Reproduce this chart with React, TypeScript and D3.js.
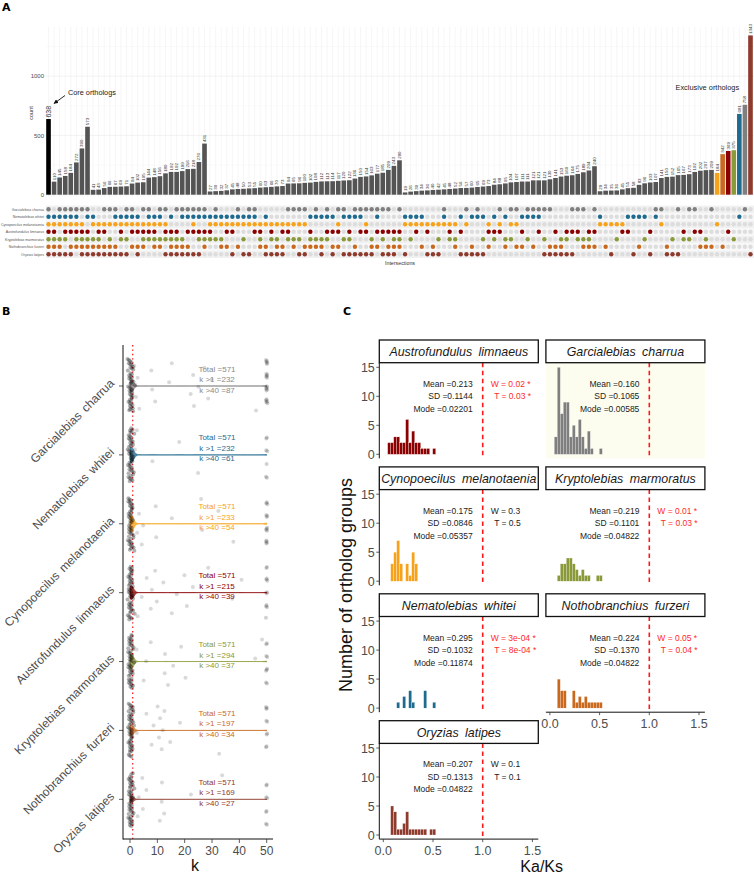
import * as d3 from 'd3';

// species (order of rows in A and B)
const speciesCodes = ['G', 'N', 'C', 'A', 'K', 'F', 'O'];
const speciesNames = [
  'Garcialebias charrua',
  'Nematolebias whitei',
  'Cynopoecilus melanotaenia',
  'Austrofundulus limnaeus',
  'Kryptolebias marmoratus',
  'Nothobranchius furzeri',
  'Oryzias latipes',
];
const speciesColors = ['#7f7f7f', '#1f6a8f', '#f7a21b', '#8b0000', '#8a9a3b', '#c9691f', '#8e3a2d'];

// ---- A: intersection sizes, grouped by degree ----
const deg7Counts = [638];
const deg6Counts = [110, 145, 158, 184, 272, 390, 573];
const deg5Counts = [41, 43, 56, 66, 67, 69, 71, 94, 102, 105, 144, 148, 156, 180, 192, 192, 199, 216, 218, 276, 431];
const deg4Counts = [27, 30, 32, 37, 45, 48, 50, 53, 55, 60, 63, 66, 70, 73, 94, 95, 96, 100, 102, 108, 112, 113, 114, 117, 120, 122, 136, 150, 154, 163, 177, 185, 209, 243, 290];
const deg3Counts = [19, 26, 30, 34, 36, 40, 42, 45, 48, 52, 56, 57, 60, 65, 69, 73, 84, 88, 95, 104, 107, 111, 111, 121, 121, 121, 130, 141, 153, 160, 164, 175, 189, 204, 240];
const deg2Counts = [29, 34, 35, 36, 45, 55, 58, 83, 96, 103, 107, 141, 150, 152, 165, 167, 173, 192, 202, 207, 209];
const deg1Counts = [184, 342, 369, 375, 681, 758, 1343];

const deg7Sets = ['GNCAKFO'];
const deg6Sets = ['NCAKFO', 'GNCKFO', 'GNCAKO', 'GNCAFO', 'GNCAKF', 'GCAKFO', 'GNAKFO'];
const deg5Sets = ['NCKFO', 'CAKFO', 'GCAFO', 'GCKFO', 'GNCFO', 'NCAKO', 'GNCKO', 'GNCAF', 'NCAFO', 'GCAKF', 'GNCAK', 'NCAKF', 'GNCKF', 'GCAKO', 'NAKFO', 'GAKFO', 'GNKFO', 'GNAFO', 'GNCAO', 'GNAKO', 'GNAKF'];
const deg4Sets = ['CNAK', 'CGNK', 'CNKF', 'CNAF', 'CNAO', 'CGNF', 'CNKO', 'CGNO', 'CGNA', 'CAKF', 'CNFO', 'CAKO', 'CKFO', 'CAFO', 'CGAK', 'CGKF', 'CGKO', 'CGFO', 'NAKF', 'GNKF', 'NKFO', 'GNAK', 'NAFO', 'CGAF', 'GNKO', 'NAKO', 'GNFO', 'GNAO', 'CGAO', 'GKFO', 'GNAF', 'GAKO', 'GAFO', 'AKFO', 'GAKF'];
const deg3Sets = ['CNO', 'CNK', 'CNA', 'CNF', 'CAO', 'CFO', 'CKO', 'CGN', 'CAK', 'CKF', 'NAO', 'CGO', 'NFO', 'GNO', 'NKO', 'CAF', 'NAK', 'CGA', 'NKF', 'CGK', 'CGF', 'NAF', 'GNK', 'GNF', 'GNA', 'GKO', 'GFO', 'AFO', 'KFO', 'AKO', 'GAO', 'GAK', 'GKF', 'AKF', 'GAF'];
const deg2Sets = ['CN', 'CF', 'CO', 'CK', 'CA', 'AN', 'ON', 'NF', 'KN', 'AO', 'GN', 'CG', 'FO', 'KO', 'GO', 'AK', 'GK', 'AG', 'AF', 'KF', 'FG'];
const deg1Sets = ['C', 'F', 'A', 'K', 'N', 'G', 'O'];

const counts = [...deg7Counts, ...deg6Counts, ...deg5Counts, ...deg4Counts, ...deg3Counts, ...deg2Counts, ...deg1Counts];
const members = [...deg7Sets, ...deg6Sets, ...deg5Sets, ...deg4Sets, ...deg3Sets, ...deg2Sets, ...deg1Sets];

// ---- B: k values ----
const lowK = [0.01, 0.03, 0.04, 0.06, 0.08, 0.09, 0.11, 0.13, 0.14, 0.17, 0.19, 0.2, 0.22, 0.25, 0.27, 0.28, 0.31, 0.33, 0.36, 0.38, 0.4, 0.43, 0.45, 0.47, 0.5, 0.52, 0.55, 0.58, 0.6, 0.63, 0.66, 0.69, 0.71, 0.74, 0.77, 0.8, 0.83, 0.86, 0.9, 0.94, 0.97, 0.12, 0.05, 0.35, 0.02, 1.1, 1.3, 1.6];
const midK = [
  [1.6, 2.2, 2.8, 3.4, 8.1, 7.8, 9.2, 14.3, 15.3, 22.2, 23.1, 23.4, 25, 27.2, 28.6, 29.9, 46.1],
  [1.8, 2.5, 8.2, 18, 24.9],
  [2.6, 3.3, 4.3, 4.8, 9.4, 9.6, 15.3, 26, 26.4, 32.3, 37.8],
  [2.8, 4.3, 6.1, 7.6, 8, 9.2, 9.8, 12.2, 15.3, 17.1, 19.9, 20.8, 23, 28.6, 37.4, 40.8],
  [2.4, 5, 5.9, 7.6, 12.7, 12.8, 13.9, 15.8, 18.7, 20.3, 45.8, 48.3],
  [2.5, 6, 7.9, 8.6, 10.1, 10.6, 11, 11.6, 12, 12.6, 14.7, 18.3, 32.6],
  [2.8, 3.2, 4.5, 4.7, 6, 10.9, 11.6, 11.7, 12.5, 22.3, 33.7],
];
const cappedAt50 = [20, 7, 14, 11, 9, 9, 8];
const totals = [571, 571, 571, 571, 571, 571, 571];
const kOver1 = [232, 232, 233, 215, 294, 197, 169];
const kOver40 = [87, 61, 54, 39, 37, 34, 27];
const violinWidth = [6, 8, 8.5, 7, 7.5, 5.5, 3.5];

// ---- C: Ka/Ks histograms (facet order) ----
const facetSpecies = [3, 0, 2, 4, 1, 5, 6];
const binStart = 0.044;
const binWidth = 0.0302;
const histCounts = [
  [2, 2, 3, 3, 2, 2, 6, 2, 4, 2, 2, 1, 1, 1, 0, 1],
  [3, 15, 7, 9, 9, 3, 5, 3, 6, 3, 1, 4, 1, 0, 0, 1],
  [0, 3, 5, 7, 3, 0, 3, 1, 5, 3],
  [0, 1, 3, 3, 4, 4, 3, 2, 1, 2, 1, 1, 0, 0, 1, 1],
  [0, 0, 0, 1, 0, 2, 0, 3, 1, 0, 0, 0, 3, 0, 0, 1],
  [0, 5, 3, 3, 0, 0, 3, 1, 2, 1, 2, 1, 1, 1, 1, 1],
  [0, 5, 4, 1, 1, 2, 4, 1, 1, 1, 1, 1, 1, 0, 1, 1],
];
const meanText = ['0.213', '0.160', '0.175', '0.219', '0.295', '0.224', '0.207'];
const sdText = ['0.1144', '0.1065', '0.0846', '0.1101', '0.1032', '0.1370', '0.1313'];
const modeText = ['0.02201', '0.00585', '0.05357', '0.04822', '0.11874', '0.04822', '0.04822'];
const wText = ['W = 0.02 *', '', 'W = 0.3', 'W = 0.01 *', 'W = 3e-04 *', 'W = 0.05 *', 'W = 0.1'];
const tText = ['T = 0.03 *', '', 'T = 0.5', 'T = 0.03 *', 'T = 8e-04 *', 'T = 0.04 *', 'T = 0.1'];
const significant = [true, false, false, true, true, true, false];

const frac = (x: number) => x - Math.floor(x);

function ViolinPanel() {
  const xB = d3.scaleLinear().domain([0, 50]).range([130, 266.7]);
  const yB = d3.scalePoint<string>().domain(speciesNames).range([386, 799.3]);
  const grid = d3.range(0, 50.001, 0.2);
  const bw = 0.8;
  return (
    <g>
      <text x={2} y={315} fontSize={11} fontWeight="bold" fontFamily="DejaVu Sans">B</text>
      <line x1={132.7} x2={132.7} y1={345} y2={839} stroke="#ff1a1a" strokeWidth={1.3} strokeDasharray="1.4,3" />
      {speciesNames.map((name, s) => {
        const ty = yB(name)!;
        const pts: { k: number; w: number }[] = [
          ...lowK.map((k) => ({ k, w: 1 })),
          ...midK[s].map((k) => ({ k, w: 0.3 })),
          ...d3.range(cappedAt50[s]).map(() => ({ k: 50, w: 0.3 })),
        ];
        const dens = grid.map((g) => [g, d3.sum(pts, (p) => p.w * Math.exp(-0.5 * ((g - p.k) / bw) ** 2))] as [number, number]);
        const maxD = d3.max(dens, (d) => d[1])!;
        const area = d3
          .area<[number, number]>()
          .x((d) => xB(d[0]))
          .y0((d) => ty - (d[1] / maxD) * violinWidth[s])
          .y1((d) => ty + (d[1] / maxD) * violinWidth[s])
          .curve(d3.curveBasis);
        return (
          <g key={name}>
            <line x1={119} x2={123} y1={ty} y2={ty} stroke="#333" strokeWidth={0.8} />
            <text
              transform={`translate(112,${ty - 5}) rotate(-45)`}
              textAnchor="end"
              dy="0.35em"
              fontSize={12}
              fill="#4d4d4d"
              style={{ wordSpacing: '2px' }}
            >
              {name}
            </text>
            <line x1={xB(0)} x2={xB(50)} y1={ty} y2={ty} stroke={speciesColors[s]} strokeWidth={0.6} opacity={0.8} />
            <path d={area(dens)!} fill={speciesColors[s]} fillOpacity={0.75} stroke={speciesColors[s]} strokeWidth={0.5} />
          </g>
        );
      })}
      {speciesNames.map((name, s) => {
        const ty = yB(name)!;
        const low = lowK.map((k, i) => (
          <circle key={'l' + i} cx={xB(k) - 2.5 + frac(i * 0.5698 + s * 0.31) * 4} cy={ty + (frac(i * 0.7548776662 + s * 0.137) * 2 - 1) * 27} r={2} fill="#000" fillOpacity={0.3} />
        ));
        const mid = midK[s].map((k, i) => (
          <circle key={'m' + i} cx={xB(k)} cy={ty + (frac(i * 0.618034 + s * 0.29 + 0.1) * 2 - 1) * 25} r={2} fill="#000" fillOpacity={0.15} />
        ));
        const top = d3.range(cappedAt50[s]).map((i) => (
          <circle key={'t' + i} cx={xB(50) + (frac(i * 0.41 + s * 0.2) - 0.5) * 1.5} cy={ty + (frac(i * 0.7548776662 + s * 0.41) * 2 - 1) * 26} r={2} fill="#000" fillOpacity={0.18} />
        ));
        return <g key={'p' + name}>{low}{mid}{top}</g>;
      })}
      {speciesNames.map((name, s) => {
        const ty = yB(name)!;
        const c = s === 0 ? '#8a8a8a' : speciesColors[s];
        return (
          <g key={'t' + name} fontSize={8} fill={c} textAnchor="middle">
            <text x={217} y={ty - 14.5}>{`Total =${totals[s]}`}</text>
            <text x={217} y={ty - 4}>{`k >1 =${kOver1[s]}`}</text>
            <text x={217} y={ty + 6.5}>{`k >40 =${kOver40[s]}`}</text>
          </g>
        );
      })}
      <line x1={123} x2={123} y1={345} y2={839.5} stroke="#111" strokeWidth={1} />
      <line x1={123} x2={273} y1={839} y2={839} stroke="#111" strokeWidth={1} />
      {[0, 10, 20, 30, 40, 50].map((t) => (
        <g key={t}>
          <line x1={xB(t)} x2={xB(t)} y1={839} y2={843} stroke="#333" strokeWidth={0.8} />
          <text x={xB(t)} y={855} textAnchor="middle" fontSize={12} fill="#4d4d4d">{t}</text>
        </g>
      ))}
      <text x={195} y={871} textAnchor="middle" fontSize={16} fill="#111">k</text>
    </g>
  );
}

function HistPanel() {
  const rowTop = (r: number) => 340 + r * 126.9;
  const colX = [379.3, 545.9];
  const panelW = 159;
  const stripH = 22.7;
  const panelH = 95.7;
  return (
    <g>
      <text x={343} y={315} fontSize={11} fontWeight="bold" fontFamily="DejaVu Sans">C</text>
      {facetSpecies.map((s, f) => {
        const r = Math.floor(f / 2);
        const c = f % 2;
        const x0 = colX[c];
        const top = rowTop(r);
        const pTop = top + stripH;
        const xS = d3.scaleLinear().domain([0, 1.5]).range([x0 + 4, x0 + 153.1]);
        const yS = d3.scaleLinear().domain([0, 15]).range([pTop + 91.6, pTop + 4.6]);
        const hasXAxis = f >= 5;
        const name = speciesNames[s];
        const red = significant[f];
        return (
          <g key={name}>
            {s === 0 && <rect x={x0} y={pTop} width={panelW} height={panelH} fill="#fdfdef" />}
            {histCounts[f].map((h, i) =>
              h > 0 ? (
                <rect
                  key={i}
                  x={xS(binStart + i * binWidth)}
                  width={xS(binStart + (i + 1) * binWidth) - xS(binStart + i * binWidth)}
                  y={yS(h)}
                  height={yS(0) - yS(h)}
                  fill={speciesColors[s]}
                  stroke="#fff"
                  strokeWidth={0.25}
                />
              ) : null
            )}
            <line x1={xS(1)} x2={xS(1)} y1={pTop} y2={pTop + panelH} stroke="#ff1a1a" strokeWidth={1.6} strokeDasharray="4.5,3.5" />
            <rect x={x0} y={top} width={panelW} height={stripH} fill="#fff" stroke="#111" strokeWidth={1.3} />
            <text x={x0 + panelW / 2} y={top + 16} textAnchor="middle" fontSize={12.4} fontStyle="italic" fill="#1a1a1a" style={{ wordSpacing: '3px' }}>
              {name}
            </text>
            <g fontSize={8.5} fill="#222" textAnchor="end">
              <text x={xS(0.9)} y={pTop + 24}>{`Mean =${meanText[f]}`}</text>
              <text x={xS(0.9)} y={pTop + 36.5}>{`SD =${sdText[f]}`}</text>
              <text x={xS(0.9)} y={pTop + 49}>{`Mode =${modeText[f]}`}</text>
            </g>
            <g fontSize={8.5} fill={red ? '#ff2a2a' : '#222'}>
              <text x={xS(1.08)} y={pTop + 24}>{wText[f]}</text>
              <text x={xS(1.115)} y={pTop + 36.5}>{tText[f]}</text>
            </g>
            {c === 0 && (
              <g>
                <line x1={x0} x2={x0} y1={pTop} y2={pTop + panelH} stroke="#111" strokeWidth={1} />
                {[0, 5, 10, 15].map((t) => (
                  <g key={t}>
                    <line x1={x0 - 3} x2={x0} y1={yS(t)} y2={yS(t)} stroke="#333" strokeWidth={0.8} />
                    <text x={x0 - 4.5} y={yS(t)} dy="0.36em" textAnchor="end" fontSize={12.5} fill="#4d4d4d">{t}</text>
                  </g>
                ))}
              </g>
            )}
            {hasXAxis && (
              <g>
                <line x1={x0} x2={x0 + panelW} y1={pTop + panelH} y2={pTop + panelH} stroke="#111" strokeWidth={1} />
                {[0, 0.5, 1, 1.5].map((t) => (
                  <g key={t}>
                    <line x1={xS(t)} x2={xS(t)} y1={pTop + panelH} y2={pTop + panelH + 3} stroke="#333" strokeWidth={0.8} />
                    <text x={xS(t)} y={pTop + panelH + 15.5} textAnchor="middle" fontSize={12.5} fill="#4d4d4d">{t.toFixed(1)}</text>
                  </g>
                ))}
              </g>
            )}
          </g>
        );
      })}
      <text transform="translate(352,585) rotate(-90)" textAnchor="middle" fontSize={18} fill="#111">Number of ortholog groups</text>
      <text x={541.7} y={872} textAnchor="middle" fontSize={16} fill="#111">Ka/Ks</text>
    </g>
  );
}

function UpsetPanel() {
  const n = counts.length;
  const xA = d3.scaleBand<number>().domain(d3.range(n)).range([46.2, 752.8]).paddingInner(0.17);
  const yA = d3.scaleLinear().domain([0, 1000]).range([194.7, 76.1]);
  const cx = (i: number) => xA(i)! + xA.bandwidth() / 2;
  const rowY = (r: number) => 209.3 + r * 7.5;
  const barColor = (i: number) => {
    if (i === 0) return '#000';
    const m = members[i];
    if (m.length === 1) return speciesColors[speciesCodes.indexOf(m)];
    return '#545454';
  };
  return (
    <g>
      <text x={2} y={11} fontSize={11} fontWeight="bold" fontFamily="DejaVu Sans">A</text>
      {[250, 750, 1250].map((t) => (
        <line key={t} x1={46} x2={754} y1={yA(t)} y2={yA(t)} stroke="#f3f3f3" strokeWidth={0.4} />
      ))}
      {[0, 500, 1000].map((t) => (
        <line key={t} x1={46} x2={754} y1={yA(t)} y2={yA(t)} stroke="#e8e8e8" strokeWidth={0.6} />
      ))}
      {counts.map((_, i) => (
        <line key={i} x1={cx(i)} x2={cx(i)} y1={27} y2={197} stroke="#ececec" strokeWidth={0.5} />
      ))}
      {[0, 500, 1000].map((t) => (
        <text key={t} x={44} y={yA(t)} dy="0.35em" textAnchor="end" fontSize={6} fill="#4d4d4d">{t}</text>
      ))}
      <text transform="translate(33,113) rotate(-90)" textAnchor="middle" fontSize={5.5} fill="#333">count</text>
      {counts.map((v, i) => (
        <rect key={i} x={xA(i)} width={xA.bandwidth()} y={yA(v)} height={yA(0) - yA(v)} fill={barColor(i)} />
      ))}
      {counts.map((v, i) => (
        <text
          key={i}
          transform={`translate(${cx(i) + (i === 0 ? 2.3 : 1.5)},${yA(v) - 1.5}) rotate(-90)`}
          fontSize={i === 0 ? 7 : 4.4}
          fill="#333"
        >
          {v}
        </text>
      ))}
      <defs>
        <marker id="arr" viewBox="0 0 10 10" refX="9" refY="5" markerWidth="5" markerHeight="5" orient="auto">
          <path d="M0,0 L10,5 L0,10 z" fill="#111" />
        </marker>
      </defs>
      <line x1={65} y1={95.5} x2={54} y2={103.5} stroke="#111" strokeWidth={0.9} markerEnd="url(#arr)" />
      <text x={68} y={95} fontSize={7.3} fill="#222">Core orthologs</text>
      <text x={675.5} y={90} fontSize={7.4} fill="#222">Exclusive orthologs</text>
      {speciesCodes.map((code, r) => (
        <g key={code}>
          <rect x={46} y={rowY(r) - 3.75} width={708} height={7.5} fill={r % 2 === 0 ? '#f1f1f1' : '#f8f8f8'} />
          <text x={44} y={rowY(r)} dy="0.35em" textAnchor="end" fontSize={3.5} fill="#555">{speciesNames[r]}</text>
          {members.map((m, i) => (
            <circle key={i} cx={cx(i)} cy={rowY(r)} r={2.2} fill={m.includes(code) ? speciesColors[r] : '#dddddd'} />
          ))}
        </g>
      ))}
      <text x={400} y={265} textAnchor="middle" fontSize={5.3} fill="#333">Intersections</text>
    </g>
  );
}

export default function App() {
  return (
    <div style={{ position: 'absolute', left: 0, top: 0 }}>
      <svg width={754} height={874} fontFamily="'Liberation Sans', Arial, sans-serif" style={{ display: 'block', background: '#fff' }}>
        <UpsetPanel />
        <ViolinPanel />
        <HistPanel />
      </svg>
    </div>
  );
}
